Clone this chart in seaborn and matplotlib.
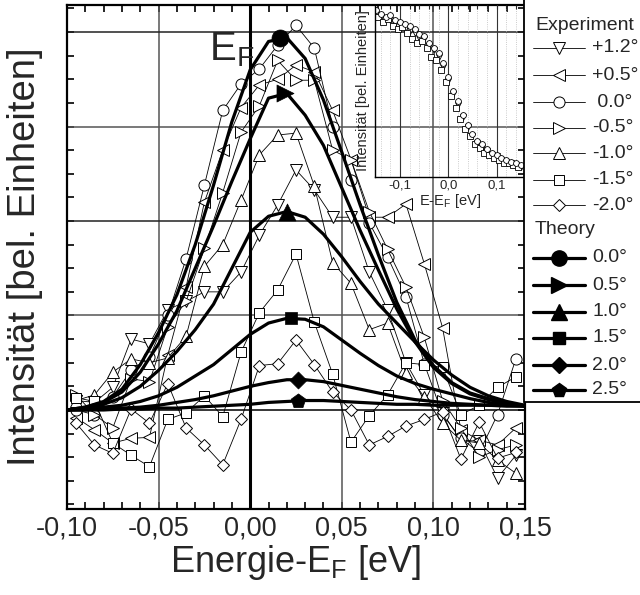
import matplotlib
matplotlib.use("Agg")
import matplotlib.pyplot as plt
import seaborn as sns
from matplotlib.lines import Line2D
from matplotlib.patches import Rectangle
from matplotlib.ticker import MultipleLocator, FixedLocator, NullFormatter

sns.set_theme(style="white")
plt.rcParams['font.family'] = ['Liberation Sans', 'DejaVu Sans']
plt.rcParams['mathtext.fontset'] = 'custom'
plt.rcParams['mathtext.rm'] = 'Liberation Sans'

# ---------------- data ----------------
energy_exp = [-0.095, -0.085, -0.075, -0.065, -0.055, -0.045, -0.035, -0.025, -0.015, -0.005,
              0.005, 0.015, 0.025, 0.035, 0.045, 0.055, 0.065, 0.075, 0.085, 0.095,
              0.105, 0.115, 0.125, 0.135, 0.145]

exp_labels = ["+1.2°", "+0.5°", " 0.0°", "-0.5°", "-1.0°", "-1.5°", "-2.0°"]
exp_markers = ["v", "<", "o", ">", "^", "s", "D"]

exp_p12 = [0.10, 0.08, 0.24, 0.75, 0.70, 1.06, 1.15, 1.25, 1.25, 1.46, 1.85, 2.17, 2.54, 2.33,
           2.04, 2.04, 1.46, 1.06, 0.50, 0.16, -0.03, -0.32, -0.33, -0.72, -0.48]
exp_p05 = [-0.08, -0.21, -0.35, -0.30, -0.29, 0.58, 1.30, 2.20, 2.75, 3.20, 3.44, 3.50, 3.65, 3.58,
           3.17, 2.65, 2.04, 2.04, 2.18, 1.55, 0.87, -0.21, -0.32, -0.37, -0.19]
exp_000 = [0.00, -0.05, 0.14, 0.42, 0.56, 1.00, 1.60, 2.38, 3.17, 3.45, 3.61, 3.86, 4.07, 3.83,
           3.00, 2.43, 1.98, 1.62, 1.20, 0.49, -0.05, -0.30, -0.45, -0.05, 0.54]
exp_m05 = [0.16, -0.05, -0.19, 0.33, 0.30, 0.88, 1.15, 1.71, 2.30, 2.94, 3.22, 3.70, 3.49, 3.49,
           2.75, 2.65, 2.10, 1.70, 1.30, 0.77, 0.10, -0.19, -0.50, -0.42, -0.37]
exp_m10 = [0.10, 0.16, 0.40, 0.54, 0.50, 0.55, 0.78, 1.52, 1.75, 2.22, 2.70, 2.91, 2.93, 2.37,
           1.56, 1.34, 0.85, 0.92, 0.39, 0.14, -0.14, -0.32, -0.35, -0.53, -0.67]
exp_m15 = [0.13, 0.09, -0.35, -0.48, -0.60, -0.10, -0.03, 0.15, -0.07, 0.61, 1.03, 1.27, 1.65, 0.93,
           0.38, -0.34, -0.06, 0.16, 0.50, 0.48, 0.45, -0.05, 0.05, 0.24, 0.35]
exp_m20 = [-0.14, -0.37, -0.46, 0.01, -0.14, 0.28, -0.19, -0.37, -0.58, -0.10, 0.47, 0.49, 0.74, 0.48,
           0.19, 0.00, -0.37, -0.28, -0.17, -0.10, -0.02, -0.52, -0.13, -0.51, -0.45]
exp_series = [exp_p12, exp_p05, exp_000, exp_m05, exp_m10, exp_m15, exp_m20]

energy_th = [-0.10, -0.09, -0.08, -0.07, -0.06, -0.05, -0.04, -0.03, -0.02, -0.01, 0.00,
             0.01, 0.02, 0.03, 0.04, 0.05, 0.06, 0.07, 0.08, 0.09, 0.10, 0.11, 0.12, 0.13, 0.14, 0.15]
th_labels = ["0.0°", "0.5°", "1.0°", "1.5°", "2.0°", "2.5°"]
th_markers = ["o", ">", "^", "s", "D", "p"]
th_00 = [0.00, 0.03, 0.09, 0.22, 0.48, 0.82, 1.22, 1.75, 2.38, 3.05, 3.60, 3.90, 3.94, 3.72, 3.28,
         2.73, 2.17, 1.64, 1.14, 0.74, 0.47, 0.29, 0.18, 0.12, 0.07, 0.04]
th_05 = [0.00, 0.03, 0.08, 0.19, 0.40, 0.70, 1.05, 1.50, 1.95, 2.42, 2.87, 3.30, 3.35, 3.12, 2.80,
         2.35, 1.90, 1.48, 1.07, 0.72, 0.45, 0.28, 0.17, 0.11, 0.07, 0.04]
th_10 = [0.00, 0.02, 0.06, 0.13, 0.25, 0.42, 0.62, 0.85, 1.12, 1.50, 1.88, 2.05, 2.10, 2.04, 1.86,
         1.62, 1.36, 1.12, 0.92, 0.72, 0.53, 0.37, 0.24, 0.15, 0.09, 0.05]
th_15 = [0.00, 0.01, 0.03, 0.05, 0.09, 0.15, 0.24, 0.36, 0.48, 0.64, 0.80, 0.92, 0.97, 0.96, 0.88,
         0.74, 0.60, 0.47, 0.36, 0.28, 0.22, 0.17, 0.12, 0.08, 0.05, 0.04]
th_20 = [0.00, 0.00, 0.01, 0.02, 0.03, 0.05, 0.08, 0.11, 0.15, 0.20, 0.25, 0.29, 0.32, 0.32, 0.30,
         0.26, 0.22, 0.18, 0.14, 0.11, 0.09, 0.07, 0.06, 0.05, 0.04, 0.04]
th_25 = [0.00, 0.00, 0.00, 0.01, 0.01, 0.02, 0.02, 0.03, 0.04, 0.05, 0.06, 0.08, 0.09, 0.10, 0.10,
         0.09, 0.08, 0.07, 0.06, 0.06, 0.05, 0.05, 0.05, 0.05, 0.05, 0.05]
th_series = [th_00, th_05, th_10, th_15, th_20, th_25]
th_peak_x = [0.016, 0.019, 0.020, 0.022, 0.026, 0.026]
th_peak_y = [3.94, 3.35, 2.10, 0.97, 0.32, 0.10]

xtick_vals = [-0.10, -0.05, 0.00, 0.05, 0.10, 0.15]
xtick_labels = ["-0,10", "-0,05", "0,00", "0,05", "0,10", "0,15"]

# inset data
inset_x_a = [-0.15, -0.14, -0.13, -0.12, -0.11, -0.10, -0.09, -0.08, -0.07, -0.06, -0.05, -0.04,
             -0.03, -0.02, -0.01, 0.00, 0.01, 0.02, 0.03, 0.04, 0.05, 0.06, 0.07, 0.08, 0.09,
             0.10, 0.11, 0.12, 0.13, 0.14, 0.15]
inset_x_b = [-0.145, -0.135, -0.125, -0.115, -0.105, -0.095, -0.085, -0.075, -0.065, -0.055,
             -0.045, -0.035, -0.025, -0.015, -0.005, 0.005, 0.015, 0.025, 0.035, 0.045, 0.055,
             0.065, 0.075, 0.085, 0.095, 0.105, 0.115, 0.125, 0.135, 0.145]
inset_circ = [0.97, 0.95, 0.93, 0.94, 0.91, 0.90, 0.89, 0.88, 0.86, 0.83, 0.82, 0.78, 0.75, 0.72,
              0.66, 0.58, 0.50, 0.44, 0.36, 0.30, 0.25, 0.21, 0.19, 0.16, 0.14, 0.13, 0.11,
              0.10, 0.09, 0.08, 0.07]
inset_sq = [0.93, 0.90, 0.92, 0.88, 0.86, 0.87, 0.84, 0.80, 0.78, 0.79, 0.75, 0.70, 0.68, 0.62,
            0.55, 0.47, 0.40, 0.34, 0.28, 0.24, 0.19, 0.17, 0.14, 0.13, 0.11, 0.10, 0.08, 0.08,
            0.07, 0.06]
inset_tri = [0.95, 0.93, 0.92, 0.91, 0.89, 0.89, 0.86, 0.85, 0.84, 0.81, 0.80, 0.76, 0.74, 0.70,
             0.64, 0.56, 0.48, 0.42, 0.35, 0.29, 0.24, 0.20, 0.17, 0.15, 0.13, 0.12, 0.10,
             0.09, 0.08, 0.07, 0.06]
inset_xticks = [-0.1, 0.0, 0.1]
inset_xticklabels = ["-0,1", "0,0", "0,1"]

# ---------------- figure ----------------
W, H = 640, 595
fig = plt.figure(figsize=(6.4, 5.95), dpi=100)
fig.patch.set_facecolor("white")
ax = fig.add_axes([67 / W, 1 - 509 / H, (525 - 67) / W, (509 - 5) / H])
ax.set_facecolor("white")
ax.set_xlim(-0.10, 0.15)
ax.set_ylim(-1.048, 4.286)

# grid
for xv in [-0.05, 0.05, 0.10]:
    ax.axvline(xv, color="#555555", lw=1.1, zorder=1)
for yv in [1, 2, 3, 4]:
    ax.axhline(yv, color="#222222" if yv % 2 == 0 else "#555555", lw=1.1, zorder=1)
ax.axhline(0, color="black", lw=1.1, zorder=1)
ax.axvline(0.0, color="black", lw=2.2, zorder=1)

# experimental
for vals, m in zip(exp_series, exp_markers):
    ms = 6.2 if m == "D" else (6.8 if m == "s" else 8)
    sns.lineplot(x=energy_exp, y=vals, ax=ax, color="black", lw=0.6, marker=m,
                 markersize=ms, markerfacecolor="white", markeredgecolor="black",
                 markeredgewidth=0.7, sort=False, estimator=None, legend=False, zorder=3)

# theory
for vals in th_series:
    sns.lineplot(x=energy_th, y=vals, ax=ax, color="black", lw=2.3, sort=False,
                 estimator=None, legend=False, zorder=4)
th_sizes = [150, 150, 150, 85, 75, 120]
for px, py, m, s in zip(th_peak_x, th_peak_y, th_markers, th_sizes):
    sns.scatterplot(x=[px], y=[py], ax=ax, marker=m, s=s, color="black",
                    edgecolor="black", linewidth=0.5, legend=False, zorder=5)

# ticks
ax.set_xticks(xtick_vals)
ax.set_xticklabels(xtick_labels)
ax.xaxis.set_minor_locator(MultipleLocator(0.01))
ax.yaxis.set_major_locator(MultipleLocator(1))
ax.yaxis.set_minor_locator(MultipleLocator(0.25))
ax.yaxis.set_major_formatter(NullFormatter())
ax.tick_params(which="both", direction="in", top=True, right=True, bottom=True, left=True,
               length=5, width=1.2, color="black")
ax.tick_params(axis="x", labelsize=19.5, pad=5)
for sp in ax.spines.values():
    sp.set_linewidth(1.6)
    sp.set_color("black")

ax.set_xlabel("Energie-E$_\\mathregular{F}$ [eV]", fontsize=26, labelpad=1)
ax.set_ylabel("Intensität [bel. Einheiten]", fontsize=27.5, labelpad=14)
ax.text(-0.0225, 3.70, "E$_\\mathregular{F}$", fontsize=29, ha="left", va="baseline", zorder=6)

# ---------------- inset ----------------
axi = fig.add_axes([375 / W, 1 - 177 / H, 150 / W, 172 / H])
axi.set_facecolor("none")
axi.set_xlim(-0.152, 0.159)
axi.set_ylim(0, 1)
axi.xaxis.set_minor_locator(MultipleLocator(0.02))
axi.set_xticks(inset_xticks)
axi.set_xticklabels(inset_xticklabels)
axi.yaxis.set_major_locator(FixedLocator([0.18, 0.40, 0.62, 0.84]))
axi.yaxis.set_major_formatter(NullFormatter())
axi.grid(True, axis="x", which="minor", color="#bbbbbb", lw=0.6, ls=":")
axi.grid(True, axis="x", which="major", color="#333333", lw=0.8)
axi.tick_params(which="both", direction="in", top=True, right=False, length=3, width=0.8)
axi.tick_params(axis="x", labelsize=9.5, pad=2)
for name, sp in axi.spines.items():
    sp.set_linewidth(1.0)
    sp.set_color("black")
axi.spines["top"].set_visible(False)
axi.spines["right"].set_visible(False)
sns.lineplot(x=inset_x_a, y=inset_tri, ax=axi, lw=0, marker="v", markersize=4.2,
             markerfacecolor="white", markeredgecolor="black", markeredgewidth=0.6,
             color="black", sort=False, estimator=None, legend=False)
sns.lineplot(x=inset_x_b, y=inset_sq, ax=axi, lw=0, marker="s", markersize=4.0,
             markerfacecolor="white", markeredgecolor="black", markeredgewidth=0.6,
             color="black", sort=False, estimator=None, legend=False)
sns.lineplot(x=inset_x_a, y=inset_circ, ax=axi, lw=0, marker="o", markersize=4.2,
             markerfacecolor="white", markeredgecolor="black", markeredgewidth=0.6,
             color="black", sort=False, estimator=None, legend=False)
axi.set_xlabel("E-E$_\\mathregular{F}$ [eV]", fontsize=10.5, labelpad=0)
axi.set_ylabel("Intensität [bel. Einheiten]", fontsize=10.5, labelpad=0)

# ---------------- legend (manual box) ----------------
fig.add_artist(Rectangle((524 / W, 1 - 402 / H), 0.3, 0.8, transform=fig.transFigure,
                         fill=True, facecolor="white", edgecolor="black", lw=1.3, zorder=10))
lx0, lx1, lxm, ltx = 533 / W, 585 / W, 559 / W, 592 / W
fs_leg = 14
fig.text(535 / W, 1 - 25 / H, "Experiment", fontsize=fs_leg, va="center", ha="left", zorder=11)
exp_rows = [48, 75, 102, 128, 153, 180, 205]
for yy, m, lab in zip(exp_rows, exp_markers, exp_labels):
    yf = 1 - yy / H
    ms = 6.2 if m == "D" else (6.8 if m == "s" else 8)
    fig.add_artist(Line2D([lx0, lxm, lx1], [yf, yf, yf], transform=fig.transFigure, color="black",
                          lw=0.6, marker=m, markevery=[1], markersize=ms, markerfacecolor="white",
                          markeredgecolor="black", markeredgewidth=0.7, zorder=11))
    fig.text(ltx, yf, lab, fontsize=fs_leg, va="center", ha="left", zorder=11)
fig.text(535 / W, 1 - 230 / H, "Theory", fontsize=fs_leg, va="center", ha="left", zorder=11)
th_rows = [258, 285, 312, 338, 365, 390]
th_ms = [11, 11, 11, 8.5, 8, 10.5]
for yy, m, lab, ms in zip(th_rows, th_markers, th_labels, th_ms):
    yf = 1 - yy / H
    fig.add_artist(Line2D([lx0, lxm, lx1], [yf, yf, yf], transform=fig.transFigure, color="black",
                          lw=2.3, marker=m, markevery=[1], markersize=ms, markerfacecolor="black",
                          markeredgecolor="black", zorder=11))
    fig.text(ltx, yf, lab, fontsize=fs_leg, va="center", ha="left", zorder=11)

fig.savefig("out.png", dpi=100, facecolor="white")
